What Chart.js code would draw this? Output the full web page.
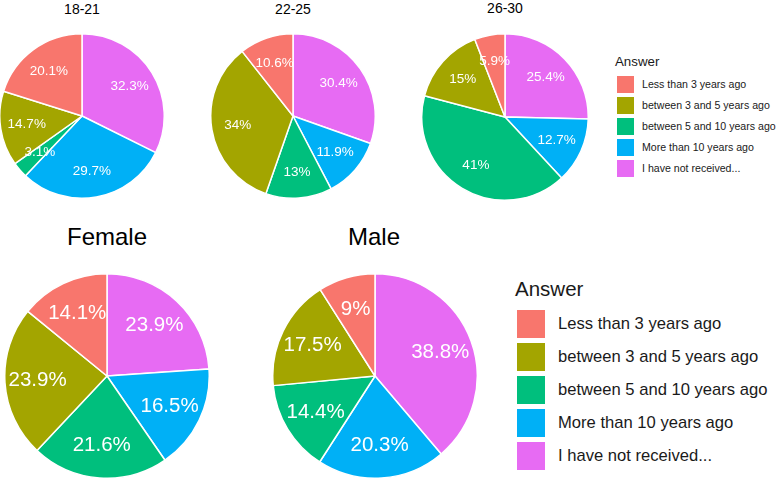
<!DOCTYPE html>
<html>
<head>
<meta charset="utf-8">
<script src="https://cdn.jsdelivr.net/npm/chart.js@4.4.0/dist/chart.umd.min.js"></script>
<style>
  body { margin: 0; background: #fff; font-family: "Liberation Sans", Arial, sans-serif; }
  #wrap { position: relative; width: 777px; height: 480px; overflow: hidden; }
  canvas { position: absolute; }
  .title { position: absolute; width: 200px; text-align: center; color: #000; white-space: nowrap; }
  .legend { position: absolute; color: #1a1a1a; white-space: nowrap; }
  .legend .head { position: absolute; left: 0; }
  .legend .row { position: absolute; left: 0; display: flex; align-items: center; }
  .legend .key { display: inline-block; }
</style>
</head>
<body>
<div id="wrap"></div>
<script>
/* --------------- Data --------------------- */
const categories = [
  "Less than 3 years ago",
  "between 3 and 5 years ago",
  "between 5 and 10 years ago",
  "More than 10 years ago",
  "I have not received...",
];
const colors = ["#F8766D", "#A3A500", "#00BF7D", "#00B0F6", "#E76BF3"];

const age18_21 = [20.1, 14.7, 3.1, 29.7, 32.3];
const age22_25 = [10.6, 34, 13, 11.9, 30.4];
const age26_30 = [5.9, 15, 41, 12.7, 25.4];
const female = [14.1, 23.9, 21.6, 16.5, 23.9];
const male = [9, 17.5, 14.4, 20.3, 38.8];

const wrap = document.getElementById("wrap");
const FONT = "'Liberation Sans', Arial, sans-serif";

/* --------------- Pie builder --------------------- */
function makePie(values, cx, cy, r, labelSize) {
  const size = 2 * r + 2;
  const canvas = document.createElement("canvas");
  canvas.width = size;
  canvas.height = size;
  canvas.style.left = (cx - size / 2) + "px";
  canvas.style.top = (cy - size / 2) + "px";
  wrap.appendChild(canvas);

  // slices go clockwise from 12 o'clock, last category first (like ggplot)
  const data = values.slice().reverse();
  const bg = colors.slice().reverse();

  const sliceLabels = {
    id: "sliceLabels",
    afterDatasetsDraw(chart) {
      const ctx = chart.ctx;
      const meta = chart.getDatasetMeta(0);
      ctx.save();
      ctx.fillStyle = "#ffffff";
      ctx.font = labelSize + "px " + FONT;
      ctx.textAlign = "center";
      ctx.textBaseline = "middle";
      meta.data.forEach((arc, i) => {
        const p = arc.getProps(["x", "y", "startAngle", "endAngle", "outerRadius"], true);
        const a = (p.startAngle + p.endAngle) / 2;
        const d = p.outerRadius * 0.68;
        ctx.fillText(data[i] + "%", p.x + Math.cos(a) * d, p.y + Math.sin(a) * d);
      });
      ctx.restore();
    },
  };

  return new Chart(canvas, {
    type: "pie",
    plugins: [sliceLabels],
    data: {
      labels: categories.slice().reverse(),
      datasets: [{
        data: data,
        backgroundColor: bg,
        borderColor: "#ffffff",
        borderWidth: 1.5,
      }],
    },
    options: {
      responsive: false,
      animation: false,
      layout: { padding: 0 },
      plugins: {
        legend: { display: false },
        tooltip: { enabled: false },
      },
    },
  });
}

function addTitle(text, cx, baseline, fs) {
  const d = document.createElement("div");
  d.className = "title";
  d.textContent = text;
  d.style.fontSize = fs + "px";
  d.style.lineHeight = fs + "px";
  d.style.left = (cx - 100) + "px";
  d.style.top = (baseline - 0.847 * fs) + "px";
  wrap.appendChild(d);
}

function addLegend(x, headBaseline, headSize, boxTop, box, pitch, textX, textSize) {
  const lg = document.createElement("div");
  lg.className = "legend";
  lg.style.left = x + "px";
  lg.style.top = "0px";
  const head = document.createElement("div");
  head.className = "head";
  head.textContent = "Answer";
  head.style.fontSize = headSize + "px";
  head.style.lineHeight = headSize + "px";
  head.style.top = (headBaseline - 0.847 * headSize) + "px";
  lg.appendChild(head);
  categories.forEach((c, i) => {
    const row = document.createElement("div");
    row.className = "row";
    row.style.top = (boxTop + i * pitch) + "px";
    row.style.height = box + "px";
    const key = document.createElement("span");
    key.className = "key";
    key.style.width = box + "px";
    key.style.height = box + "px";
    key.style.background = colors[i];
    key.style.marginLeft = "2px";
    const t = document.createElement("span");
    t.textContent = c;
    t.style.fontSize = textSize + "px";
    t.style.marginLeft = (textX - x - 2 - box) + "px";
    row.appendChild(key);
    row.appendChild(t);
    lg.appendChild(row);
  });
  wrap.appendChild(lg);
}

/* --------------- Top row: age groups --------------------- */
makePie(age18_21, 82, 116, 82, 13.5);
makePie(age22_25, 293, 116, 82, 13.5);
makePie(age26_30, 505, 117, 83, 13.5);
addTitle("18-21", 82, 14, 14);
addTitle("22-25", 293, 14, 14);
addTitle("26-30", 505, 13, 14);
addLegend(615, 66, 13.3, 75.5, 17, 21, 642, 10.6);

/* --------------- Bottom row: gender --------------------- */
makePie(female, 107, 376, 102, 20.5);
makePie(male, 375, 376, 102, 20.5);
addTitle("Female", 107, 245, 24);
addTitle("Male", 374, 245, 24);
addLegend(515, 296, 20.5, 310, 28, 33, 558, 16.6);
</script>
</body>
</html>
